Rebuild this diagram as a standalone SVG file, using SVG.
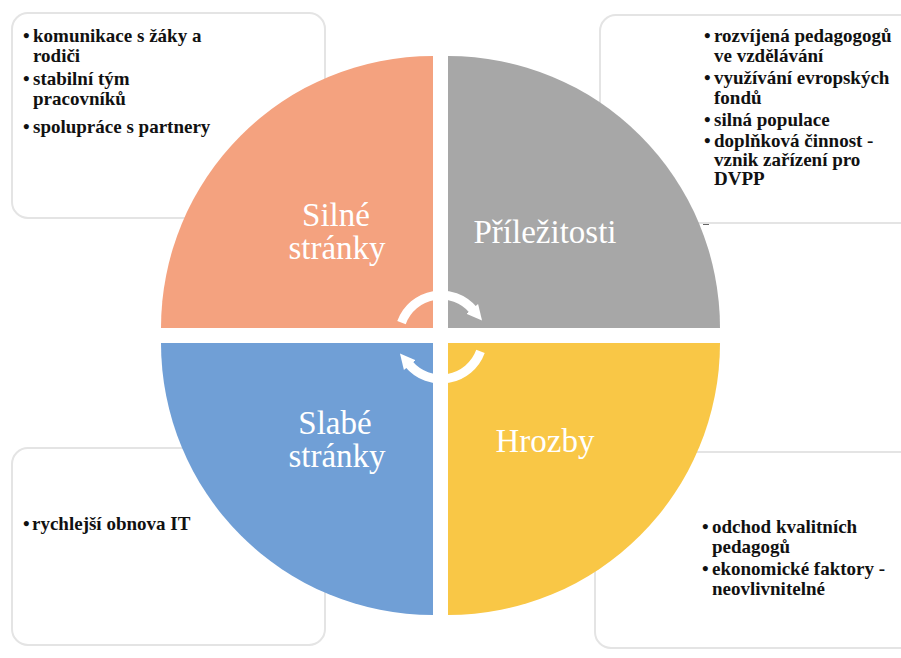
<svg xmlns="http://www.w3.org/2000/svg" width="901" height="658" viewBox="0 0 901 658">
<defs>
<style>
.box{fill:#ffffff;stroke:#e4e4e4;stroke-width:2}
.item{font-family:'Liberation Serif','DejaVu Serif',serif;font-weight:bold;font-size:19px;fill:#111111}
.label{font-family:'Liberation Serif','DejaVu Serif',serif;font-size:33px;fill:#ffffff;text-anchor:middle}
.cyc{fill:none;stroke:#ffffff;stroke-width:9;marker-end:url(#ah)}
</style>
<marker id="ah" viewBox="0 0 10 10" refX="1" refY="5" markerWidth="1.7" markerHeight="2.4" markerUnits="strokeWidth" orient="auto">
<path d="M0,0 L10,5 L0,10 z" fill="#ffffff"/>
</marker>
</defs>
<rect width="901" height="658" fill="#ffffff"/>

<g id="strengths-list">
<rect class="box" x="12" y="13" width="313" height="205" rx="16"/>
</g>
<g id="opportunities-list">
<rect class="box" x="600" y="15" width="330" height="208" rx="16"/>
</g>
<g id="weaknesses-list">
<rect class="box" x="12" y="448" width="313" height="197" rx="16"/>
</g>
<g id="threats-list">
<rect class="box" x="595" y="452" width="335" height="196" rx="16"/>
</g>

<g id="strengths">
<path d="M433,328 L161,328 A272,272 0 0 1 433,56 Z" fill="#F4A27F"/>
<text class="label" x="336" y="226">Silné</text>
<text class="label" x="337" y="259">stránky</text>
</g>
<g id="opportunities">
<path d="M448,328 L448,56 A272,272 0 0 1 720,328 Z" fill="#A7A7A7"/>
<text class="label" x="545" y="243">Příležitosti</text>
</g>
<g id="weaknesses">
<path d="M433,343 L433,615 A272,272 0 0 1 161,343 Z" fill="#709FD6"/>
<text class="label" x="335" y="434">Slabé</text>
<text class="label" x="337" y="467">stránky</text>
</g>
<g id="threats">
<path d="M448,343 L720,343 A272,272 0 0 1 448,615 Z" fill="#F9C746"/>
<text class="label" x="545" y="452">Hrozby</text>
</g>

<g id="connectors">
<path class="cyc" d="M401.5,322.6 A42,42 0 0 1 473.2,310"/>
<path class="cyc" d="M480.5,351.4 A42,42 0 0 1 408.8,364"/>
</g>

<g id="strengths-text">
<text class="item" x="23" y="42">•<tspan x="33">komunikace s žáky a</tspan></text>
<text class="item" x="33" y="62">rodiči</text>
<text class="item" x="23" y="85">•<tspan x="33">stabilní tým</tspan></text>
<text class="item" x="33" y="105">pracovníků</text>
<text class="item" x="23" y="133">•<tspan x="33">spolupráce s partnery</tspan></text>
</g>
<g id="opportunities-text">
<text class="item" x="704" y="42">•<tspan x="714">rozvíjená pedagogogů</tspan></text>
<text class="item" x="714" y="62">ve vzdělávání</text>
<text class="item" x="704" y="84">•<tspan x="714">využívání evropských</tspan></text>
<text class="item" x="714" y="104">fondů</text>
<text class="item" x="704" y="126">•<tspan x="714">silná populace</tspan></text>
<text class="item" x="704" y="147">•<tspan x="714">doplňková činnost -</tspan></text>
<text class="item" x="714" y="166">vznik zařízení pro</text>
<text class="item" x="714" y="185">DVPP</text>
<line x1="703" y1="224.5" x2="709" y2="224.5" stroke="#666666" stroke-width="1"/>
</g>
<g id="weaknesses-text">
<text class="item" x="23" y="530">•<tspan x="32">rychlejší obnova IT</tspan></text>
</g>
<g id="threats-text">
<text class="item" x="702" y="533">•<tspan x="712">odchod kvalitních</tspan></text>
<text class="item" x="712" y="553">pedagogů</text>
<text class="item" x="702" y="575">•<tspan x="712">ekonomické faktory -</tspan></text>
<text class="item" x="712" y="595">neovlivnitelné</text>
</g>
</svg>
